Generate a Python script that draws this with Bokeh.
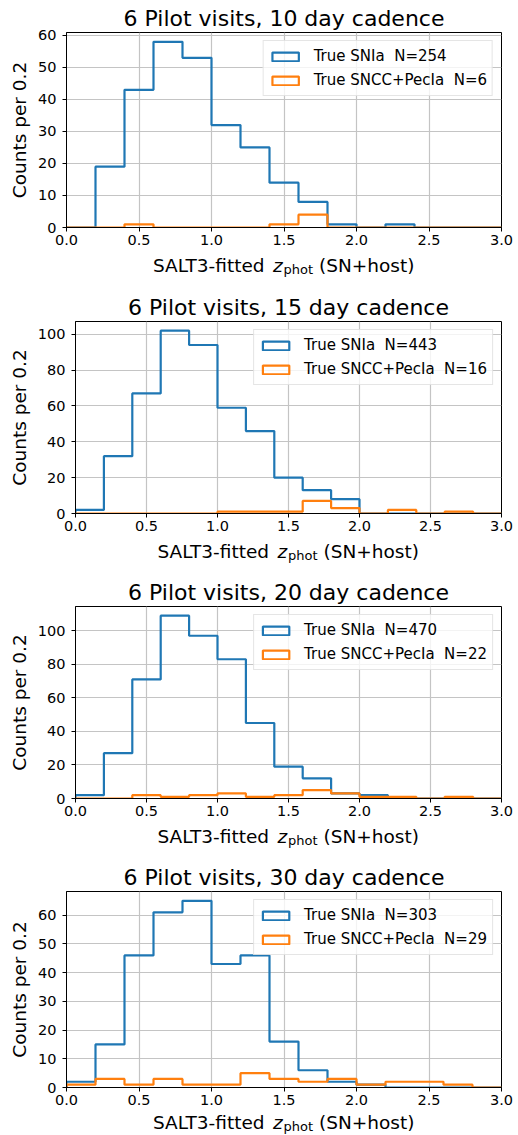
from bokeh.plotting import figure
from bokeh.models import (Range1d, FixedTicker, PrintfTickFormatter, Legend,
                          LegendItem)
from bokeh.core.properties import value
from bokeh.embed import file_html
from bokeh.resources import INLINE

# ---------------- data ----------------
bin_edges = [0.0, 0.2, 0.4, 0.6, 0.8, 1.0, 1.2, 1.4, 1.6, 1.8, 2.0, 2.2, 2.4, 2.6, 2.8, 3.0]
cadences = ["10", "15", "20", "30"]

snia_10 = [0, 19, 43, 58, 53, 32, 25, 14, 8, 1, 0, 1, 0, 0, 0]
cc_10 = [0, 0, 1, 0, 0, 0, 0, 1, 4, 0, 0, 0, 0, 0, 0]
snia_15 = [2, 32, 67, 102, 94, 59, 46, 20, 13, 8, 0, 0, 0, 0, 0]
cc_15 = [0, 0, 0, 0, 0, 1, 1, 1, 7, 3, 0, 2, 0, 1, 0]
snia_20 = [2, 27, 71, 109, 97, 83, 45, 19, 12, 3, 2, 0, 0, 0, 0]
cc_20 = [0, 0, 2, 1, 2, 3, 1, 2, 5, 3, 1, 1, 0, 1, 0]
snia_30 = [2, 15, 46, 61, 65, 43, 46, 16, 6, 2, 1, 0, 0, 0, 0]
cc_30 = [1, 3, 1, 3, 1, 1, 5, 3, 2, 3, 1, 2, 2, 1, 0]

snia_N = [254, 443, 470, 303]
cc_N = [6, 16, 22, 29]

x_ticks = [0.0, 0.5, 1.0, 1.5, 2.0, 2.5, 3.0]
y_ticks_10 = [0, 10, 20, 30, 40, 50, 60]
y_ticks_20 = [0, 20, 40, 60, 80, 100]
y_ticks_per_panel = [y_ticks_10, y_ticks_20, y_ticks_20, y_ticks_10]

snia_all = [snia_10, snia_15, snia_20, snia_30]
cc_all = [cc_10, cc_15, cc_20, cc_30]

# ---------------- style / layout ----------------
BLUE = "#1f77b4"
ORANGE = "#ff7f0e"
FONT = "DejaVu Sans"
W = 518
tops = [32, 36, 36, 36]
frames = [195, 192, 192, 196]
BOTTOM = 26
strip_h = [32, 31, 31, 22]
strip_base = [12, 12, 12, 9]
lefts = [66, 75, 75, 66]
RIGHT = 17
LBL = "18.5px"


def step_xy(edges, counts):
    xs = [edges[0]]
    ys = [0]
    for i, c in enumerate(counts):
        xs += [edges[i], edges[i + 1]]
        ys += [c, c]
    xs.append(edges[-1])
    ys.append(0)
    return xs, ys


roots = []
for k in range(4):
    snia = snia_all[k]
    cc = cc_all[k]
    ymax = max(max(snia), max(cc)) * 1.05
    h = tops[k] + frames[k] + BOTTOM
    p = figure(width=W, height=h, output_backend="svg",
               toolbar_location=None,
               x_range=Range1d(0, 3), y_range=Range1d(0, ymax),
               min_border_left=lefts[k], min_border_right=RIGHT,
               min_border_top=tops[k], min_border_bottom=BOTTOM)
    p.title.text = "6 Pilot visits, %s day cadence" % cadences[k]
    p.title.text_font = FONT
    p.title.text_font_size = "22px"
    p.title.text_font_style = "normal"
    p.title.align = "center"
    p.title.standoff = 3
    p.title.text_color = "black"

    p.outline_line_color = "black"
    p.outline_line_width = 1
    p.outline_line_alpha = 1

    for ax in (p.xaxis[0], p.yaxis[0]):
        ax.axis_line_color = "black"
        ax.major_tick_line_color = "black"
        ax.major_tick_out = 4
        ax.major_tick_in = 0
        ax.minor_tick_line_color = None
        ax.major_label_text_font = FONT
        ax.major_label_text_font_size = "14.5px"
        ax.major_label_text_color = "black"
    p.xaxis.ticker = FixedTicker(ticks=x_ticks)
    p.xaxis.formatter = PrintfTickFormatter(format="%.1f")
    p.xaxis.major_label_standoff = 3
    p.yaxis.ticker = FixedTicker(ticks=y_ticks_per_panel[k])
    p.yaxis.major_label_standoff = 6
    p.yaxis.axis_label = "Counts per 0.2"
    p.yaxis.axis_label_text_font = FONT
    p.yaxis.axis_label_text_font_size = LBL
    p.yaxis.axis_label_text_font_style = "normal"
    p.yaxis.axis_label_text_color = "black"
    p.yaxis.axis_label_standoff = 5

    p.xgrid.grid_line_color = "#c4c4c4"
    p.ygrid.grid_line_color = "#c4c4c4"
    p.xgrid.grid_line_width = 1.2
    p.ygrid.grid_line_width = 1.2
    p.xgrid.ticker = FixedTicker(ticks=x_ticks)
    p.ygrid.ticker = FixedTicker(ticks=y_ticks_per_panel[k])

    xs, ys = step_xy(bin_edges, snia)
    p.line(xs, ys, line_color=BLUE, line_width=2.2)
    xs2, ys2 = step_xy(bin_edges, cc)
    p.line(xs2, ys2, line_color=ORANGE, line_width=2.2)

    # legend proxies (outlined rectangles), placed outside the visible range
    r1 = p.quad(left=[-2.0], right=[-1.0], top=[-2.0], bottom=[-3.0], fill_alpha=0,
                line_color=BLUE, line_width=2.2)
    r2 = p.quad(left=[-2.0], right=[-1.0], top=[-2.0], bottom=[-3.0], fill_alpha=0,
                line_color=ORANGE, line_width=2.2)
    legend = Legend(items=[
        LegendItem(label="True SNIa\u00a0 N=%d" % snia_N[k], renderers=[r1]),
        LegendItem(label="True SNCC+PecIa\u00a0 N=%d" % cc_N[k], renderers=[r2]),
    ], location="top_right")
    legend.margin = 8
    legend.padding = 5
    legend.spacing = 4
    legend.glyph_width = 33
    legend.glyph_height = 11
    legend.label_height = 20
    legend.label_standoff = 12
    legend.label_text_font = FONT
    legend.label_text_font_size = "15px"
    legend.label_text_color = "black"
    legend.border_line_color = "#cccccc"
    legend.border_line_width = 1
    legend.background_fill_color = "white"
    legend.background_fill_alpha = 0.8
    p.add_layout(legend)
    roots.append(p)

    # x-axis label strip: "SALT3-fitted z_phot (SN+host)"
    sh = strip_h[k]
    s = figure(width=W, height=sh, output_backend="svg", toolbar_location=None,
               title=None,
               x_range=Range1d(0, W), y_range=Range1d(sh, 0),
               x_axis_type=None, y_axis_type=None, min_border=0,
               min_border_left=0, min_border_right=0,
               min_border_top=0, min_border_bottom=0)
    s.outline_line_color = None
    s.grid.visible = False
    c = (lefts[k] + W - RIGHT) / 2.0
    base = strip_base[k]
    s.text(x=[c - 131], y=[base], text=["SALT3-fitted"], text_font=value(FONT),
           text_font_size=LBL, text_color="black", text_baseline="alphabetic",
           text_align="left")
    s.text(x=[c - 11], y=[base], text=["z"], text_font=value(FONT),
           text_font_size=LBL, text_font_style="italic", text_color="black",
           text_baseline="alphabetic", text_align="left")
    s.text(x=[c - 0.5], y=[base + 4], text=["phot"], text_font=value(FONT),
           text_font_size="13px", text_color="black", text_baseline="alphabetic",
           text_align="left")
    s.text(x=[c + 35], y=[base], text=["(SN+host)"], text_font=value(FONT),
           text_font_size=LBL, text_color="black", text_baseline="alphabetic",
           text_align="left")
    roots.append(s)

open("out.html", "w").write(file_html(roots, INLINE))
